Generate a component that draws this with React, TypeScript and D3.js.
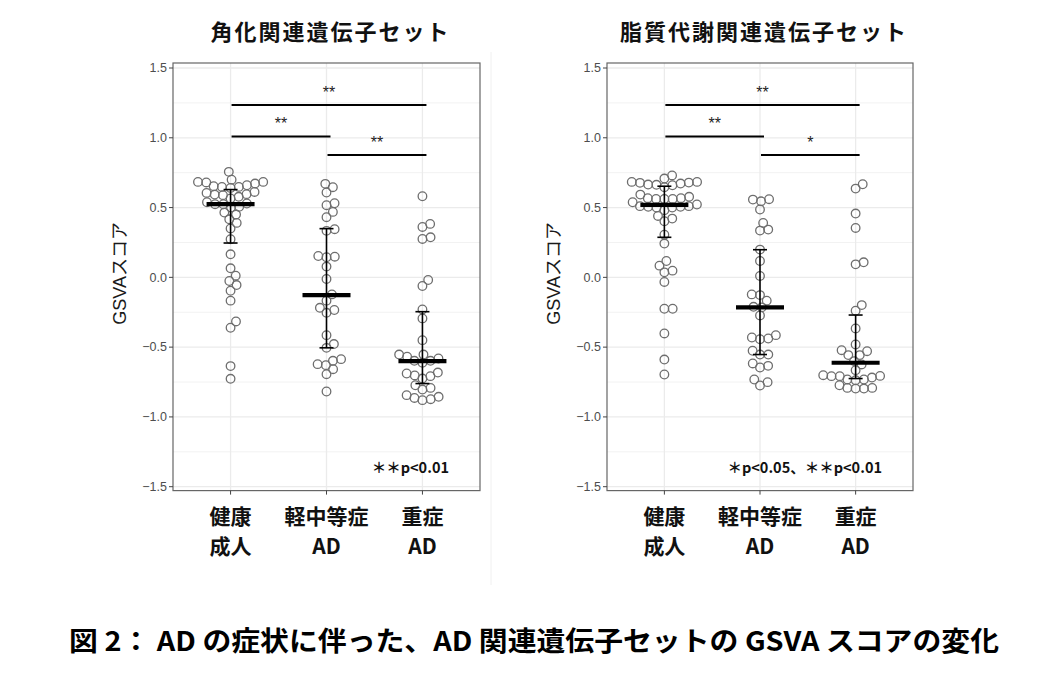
import React from "react";
import * as d3 from "d3";

const categories = ["健康|成人", "軽中等症|AD", "重症|AD"];
const yTicks = [-1.5, -1.0, -0.5, 0.0, 0.5, 1.0, 1.5];
const yMinorTicks = [-1.25, -0.75, -0.25, 0.25, 0.75, 1.25];

// 角化関連遺伝子セット
const kerHealthy = [0.756, 0.68, 0.684, 0.684, 0.70, 0.672, 0.612, 0.653, 0.641, 0.648, 0.66, 0.648, 0.605, 0.593, 0.565, 0.577, 0.596, 0.589, 0.538, 0.505, 0.529, 0.524, 0.50, 0.524, 0.45, 0.464, 0.416, 0.39, 0.35, 0.273, 0.165, 0.065, 0.012, -0.026, -0.055, -0.096, -0.167, -0.316, -0.361, -0.636, -0.727];
const kerMild = [0.646, 0.67, 0.608, 0.531, 0.517, 0.469, 0.431, 0.345, 0.333, 0.153, 0.144, 0.148, 0.077, -0.012, -0.167, -0.122, -0.218, -0.254, -0.234, -0.414, -0.478, -0.505, -0.629, -0.598, -0.622, -0.658, -0.586, -0.694, -0.818];
const kerSevere = [0.581, 0.361, 0.383, 0.275, 0.287, -0.062, -0.019, -0.230, -0.294, -0.450, -0.553, -0.569, -0.612, -0.581, -0.553, -0.598, -0.598, -0.689, -0.708, -0.725, -0.682, -0.703, -0.773, -0.804, -0.792, -0.856, -0.873, -0.880, -0.844, -0.864];
const kerCenter = [0.524, -0.127, -0.600];
const kerUpper = [0.629, 0.349, -0.246];
const kerLower = [0.246, -0.505, -0.761];

// 脂質代謝関連遺伝子セット
const lipHealthy = [0.730, 0.684, 0.665, 0.646, 0.660, 0.677, 0.684, 0.672, 0.708, 0.663, 0.679, 0.593, 0.538, 0.562, 0.562, 0.577, 0.562, 0.567, 0.567, 0.522, 0.481, 0.510, 0.500, 0.505, 0.505, 0.510, 0.500, 0.440, 0.421, 0.402, 0.306, 0.242, 0.117, 0.084, 0.048, 0.036, -0.033, -0.225, -0.225, -0.402, -0.589, -0.696];
const lipMild = [0.557, 0.560, 0.545, 0.486, 0.390, 0.342, 0.335, 0.199, 0.117, 0.010, -0.127, -0.122, -0.167, -0.211, -0.215, -0.273, -0.431, -0.443, -0.414, -0.438, -0.526, -0.553, -0.553, -0.617, -0.646, -0.634, -0.751, -0.775, -0.732];
const lipSevere = [0.667, 0.636, 0.457, 0.354, 0.108, 0.093, -0.199, -0.239, -0.366, -0.481, -0.522, -0.529, -0.557, -0.557, -0.600, -0.624, -0.665, -0.732, -0.706, -0.708, -0.737, -0.718, -0.701, -0.708, -0.732, -0.792, -0.797, -0.797, -0.773, -0.792];
const lipCenter = [0.519, -0.215, -0.612];
const lipUpper = [0.653, 0.198, -0.270];
const lipLower = [0.287, -0.553, -0.725];

const sigPairs = [[0, 2], [0, 1], [1, 2]];
const sigHeights = [1.235, 1.01, 0.876];
const kerSigLabels = ["**", "**", "**"];
const lipSigLabels = ["**", "**", "*"];

const CJK = "'Noto Sans CJK JP', 'Noto Sans', sans-serif";
const SANS = "'Liberation Sans', Arial, 'Noto Sans CJK JP', sans-serif";

const yScale = d3.scaleLinear().domain([-1.5, 1.5]).range([486.7, 68]);
const plotTop = 63;
const plotBottom = 490.6;

function swarm(values: number[], d: number) {
  const sorted = [...values].sort((a, b) => a - b);
  const placed: { x: number; y: number; v: number }[] = [];
  for (const v of sorted) {
    const y = yScale(v);
    const cands = [0];
    for (const p of placed) {
      const dy = Math.abs(p.y - y);
      if (dy < d) {
        const off = Math.sqrt(d * d - dy * dy);
        cands.push(p.x + off, p.x - off);
      }
    }
    cands.sort((a, b) => Math.abs(a) - Math.abs(b));
    let chosen = 0;
    for (const c of cands) {
      const ok = placed.every((p) => (p.x - c) ** 2 + (p.y - y) ** 2 >= d * d - 1e-6);
      if (ok) { chosen = c; break; }
    }
    placed.push({ x: chosen, y, v });
  }
  return placed;
}

type PanelProps = {
  title: string;
  groups: number[][];
  center: number[];
  upper: number[];
  lower: number[];
  sigLabels: string[];
  x0: number;
  x1: number;
  note: string;
};

function Panel({ title, groups, center, upper, lower, sigLabels, x0, x1, note }: PanelProps) {
  const xScale = d3.scalePoint<string>().domain(categories).range([x0, x1]).padding(0.6);
  const gray = "#ebebeb";
  return (
    <g>
      <text x={(x0 + x1) / 2 + 4} y={40} textAnchor="middle" fontFamily={CJK} fontWeight={700} fontSize={22} letterSpacing={2} fill="#111">{title}</text>
      {yMinorTicks.map((t) => (
        <line key={"mi" + t} x1={x0} x2={x1} y1={yScale(t)} y2={yScale(t)} stroke="#f2f2f2" strokeWidth={1} />
      ))}
      {yTicks.map((t) => (
        <line key={"ma" + t} x1={x0} x2={x1} y1={yScale(t)} y2={yScale(t)} stroke={gray} strokeWidth={1.3} />
      ))}
      {categories.map((c) => (
        <line key={"vx" + c} x1={xScale(c)} x2={xScale(c)} y1={plotTop} y2={plotBottom} stroke={gray} strokeWidth={1.3} />
      ))}
      {groups.map((vals, gi) => {
        const cx = xScale(categories[gi])!;
        return swarm(vals, 8.3).map((p, i) => (
          <circle key={gi + "-" + i} cx={cx + p.x} cy={p.y} r={4.3} fill="none" stroke="#6e6e6e" strokeWidth={1.3} />
        ));
      })}
      {categories.map((c, gi) => {
        const cx = xScale(c)!;
        return (
          <g key={"s" + c} stroke="#000">
            <line x1={cx} x2={cx} y1={yScale(upper[gi])} y2={yScale(lower[gi])} strokeWidth={1.6} />
            <line x1={cx - 7} x2={cx + 7} y1={yScale(upper[gi])} y2={yScale(upper[gi])} strokeWidth={1.6} />
            <line x1={cx - 7} x2={cx + 7} y1={yScale(lower[gi])} y2={yScale(lower[gi])} strokeWidth={1.6} />
            <line x1={cx - 24} x2={cx + 24} y1={yScale(center[gi])} y2={yScale(center[gi])} strokeWidth={4.2} />
          </g>
        );
      })}
      {sigPairs.map(([a, b], i) => {
        const xa = xScale(categories[a])! + 1;
        const xb = xScale(categories[b])! + 4;
        const y = yScale(sigHeights[i]);
        return (
          <g key={"sig" + i}>
            <line x1={xa} x2={xb} y1={y} y2={y} stroke="#000" strokeWidth={2} />
            <text x={(xa + xb) / 2} y={y - 7} textAnchor="middle" fontFamily={SANS} fontSize={16} fill="#222">{sigLabels[i]}</text>
          </g>
        );
      })}
      <rect x={x0} y={plotTop} width={x1 - x0} height={plotBottom - plotTop} fill="none" stroke="#666" strokeWidth={1.2} />
      {yTicks.map((t) => (
        <g key={"yt" + t}>
          <line x1={x0 - 4} x2={x0} y1={yScale(t)} y2={yScale(t)} stroke="#444" strokeWidth={1} />
          <text x={x0 - 6} y={yScale(t) + 4.3} textAnchor="end" fontFamily={SANS} fontSize={12.5} fill="#4d4d4d">{d3.format(".1f")(t)}</text>
        </g>
      ))}
      <text transform={`translate(${x0 - 47},${yScale(0) - 4}) rotate(-90)`} textAnchor="middle" fontFamily={SANS} fontSize={18} fill="#1a1a1a">GSVAスコア</text>
      {categories.map((c) => {
        const cx = xScale(c)!;
        const [l1, l2] = c.split("|");
        return (
          <g key={"xt" + c}>
            <line x1={cx} x2={cx} y1={plotBottom} y2={plotBottom + 4} stroke="#444" strokeWidth={1} />
            <text x={cx} y={524} textAnchor="middle" fontFamily={CJK} fontWeight={700} fontSize={21} fill="#111">{l1}</text>
            <text x={cx} y={554} textAnchor="middle" fontFamily={CJK} fontWeight={700} fontSize={21} fill="#111">{l2}</text>
          </g>
        );
      })}
      <text x={x1 - 31} y={473} textAnchor="end" fontFamily={CJK} fontWeight={700} fontSize={14.5} fill="#111">{note}</text>
    </g>
  );
}

export default function App() {
  return (
    <svg width={1050} height={673} style={{ position: "absolute", left: 0, top: 0, background: "#fff" }}>
      <rect x={0} y={0} width={1050} height={673} fill="#fff" />
      <line x1={491} x2={491} y1={52} y2={585} stroke="#f0f0f0" strokeWidth={1} />
      <Panel title="角化関連遺伝子セット" groups={[kerHealthy, kerMild, kerSevere]} center={kerCenter} upper={kerUpper} lower={kerLower} sigLabels={kerSigLabels} x0={173} x1={480} note="＊＊p<0.01" />
      <Panel title="脂質代謝関連遺伝子セット" groups={[lipHealthy, lipMild, lipSevere]} center={lipCenter} upper={lipUpper} lower={lipLower} sigLabels={lipSigLabels} x0={607} x1={913} note="＊p<0.05、＊＊p<0.01" />
      <text x={534} y={651} textAnchor="middle" fontFamily={CJK} fontWeight={700} fontSize={27} textLength={930} lengthAdjust="spacingAndGlyphs" fill="#000">図 2： AD の症状に伴った、AD 関連遺伝子セットの GSVA スコアの変化</text>
    </svg>
  );
}
